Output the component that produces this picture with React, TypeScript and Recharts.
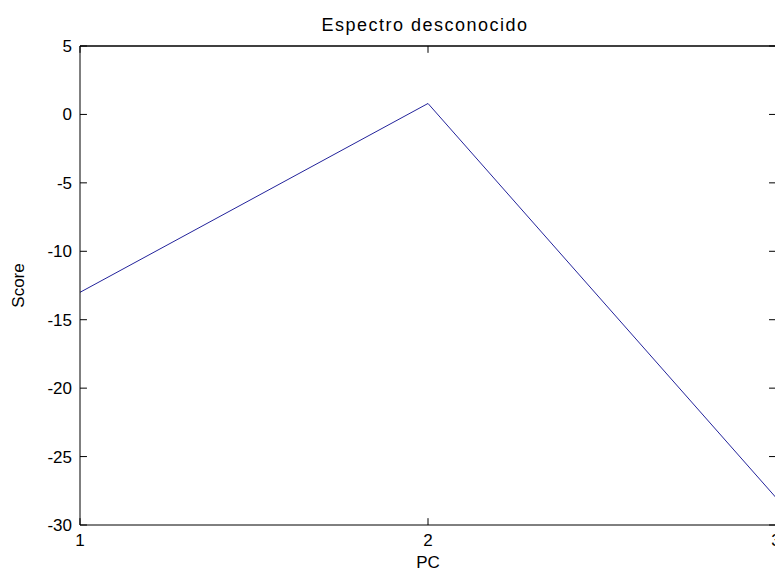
import { LineChart, Line, XAxis, YAxis, ReferenceLine } from "recharts";

// PC scores of the unknown spectrum
const pcValues = [1, 2, 3];
const scoreValues = [-13, 0.8, -28];
const xTicks = [1, 2, 3];
const yTicks = [5, 0, -5, -10, -15, -20, -25, -30];

const data = pcValues.map((pc, i) => ({ pc, score: scoreValues[i] }));

const xMin = xTicks[0];
const xMax = xTicks[xTicks.length - 1];
const yMax = yTicks[0];
const yMin = yTicks[yTicks.length - 1];
// inward tick length, in data units (~7px each way)
const xTickLen = 0.02;
const yTickLen = 0.5;

const font = "'Liberation Sans', Arial, Helvetica, sans-serif";
const tickStyle = { fill: "#000000", fontSize: 17, fontFamily: font };

const App = () => {
  return (
    <div
      style={{
        position: "absolute",
        left: 0,
        top: 0,
        width: 775,
        height: 572,
        overflow: "hidden",
        background: "#ffffff",
      }}
    >
      <div
        style={{
          position: "absolute",
          left: 225,
          top: 16,
          width: 400,
          textAlign: "center",
          fontFamily: font,
          fontSize: 18,
          lineHeight: "18px",
          letterSpacing: 1.5,
          color: "#000",
        }}
      >
        Espectro desconocido
      </div>
      <LineChart
        width={800}
        height={572}
        data={data}
        margin={{ top: 46, right: 24, left: 20, bottom: 17 }}
      >
        <XAxis
          dataKey="pc"
          type="number"
          domain={[xMin, xMax]}
          ticks={xTicks}
          allowDataOverflow
          height={30}
          tick={tickStyle}
          tickLine={false}
          tickSize={0}
          tickMargin={9}
          stroke="#000"
          label={{
            value: "PC",
            position: "bottom",
            offset: 1,
            style: { fill: "#000", fontSize: 17, fontFamily: font },
          }}
        />
        <YAxis
          type="number"
          domain={[yMin, yMax]}
          ticks={yTicks}
          allowDataOverflow
          width={60}
          tick={tickStyle}
          tickLine={false}
          tickSize={0}
          tickMargin={8}
          stroke="#000"
          label={{
            value: "Score",
            angle: -90,
            position: "insideLeft",
            offset: -2,
            style: { fill: "#000", fontSize: 17, fontFamily: font, textAnchor: "middle" },
          }}
        />
        {/* box: top and right borders */}
        <ReferenceLine y={yMax} stroke="#000" strokeWidth={1.5} />
        <ReferenceLine x={xMax} stroke="#000" strokeWidth={1.5} />
        {/* inward ticks, bottom and top */}
        {xTicks.map((t) => (
          <ReferenceLine
            key={`xb${t}`}
            segment={[{ x: t, y: yMin }, { x: t, y: yMin + yTickLen }]}
            stroke="#000"
          />
        ))}
        {xTicks.map((t) => (
          <ReferenceLine
            key={`xt${t}`}
            segment={[{ x: t, y: yMax }, { x: t, y: yMax - yTickLen }]}
            stroke="#000"
          />
        ))}
        {/* inward ticks, left and right */}
        {yTicks.map((t) => (
          <ReferenceLine
            key={`yl${t}`}
            segment={[{ x: xMin, y: t }, { x: xMin + xTickLen, y: t }]}
            stroke="#000"
          />
        ))}
        {yTicks.map((t) => (
          <ReferenceLine
            key={`yr${t}`}
            segment={[{ x: xMax, y: t }, { x: xMax - xTickLen, y: t }]}
            stroke="#000"
          />
        ))}
        <Line
          type="linear"
          dataKey="score"
          stroke="#23239b"
          strokeWidth={1}
          dot={false}
          isAnimationActive={false}
        />
      </LineChart>
    </div>
  );
};

export default App;
